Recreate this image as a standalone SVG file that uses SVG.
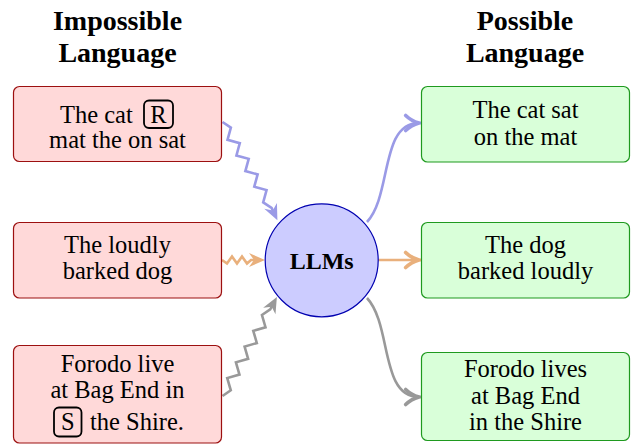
<svg xmlns="http://www.w3.org/2000/svg" width="631" height="444" viewBox="0 0 631 444">
<style>
  text { font-family: "Liberation Serif", "Times New Roman", serif; fill: #000; }
  .title { font-size: 28px; font-weight: bold; text-anchor: middle; }
  .t { font-size: 24.5px; text-anchor: middle; }
  .bad { fill: #ffd9d9; stroke: #9c1010; stroke-width: 1.2; }
  .good { fill: #d9ffd9; stroke: #1f9a1f; stroke-width: 1.2; }
  .key { fill: none; stroke: #000; stroke-width: 1.8; }
  .c { fill: none; stroke-width: 2.6; stroke-linejoin: miter; }
</style>
<defs>
  <marker id="zb" markerUnits="userSpaceOnUse" markerWidth="30" markerHeight="30" viewBox="-20 -10 30 20" refX="-8" refY="0" orient="auto" overflow="visible">
    <path d="M0,0 L-16,-7 L-11,0 L-16,7 Z" fill="#9a9ae6"/>
  </marker>
  <marker id="zo" markerUnits="userSpaceOnUse" markerWidth="30" markerHeight="30" viewBox="-20 -10 30 20" refX="-8" refY="0" orient="auto" overflow="visible">
    <path d="M0,0 L-16,-7 L-11,0 L-16,7 Z" fill="#e9b07c"/>
  </marker>
  <marker id="zg" markerUnits="userSpaceOnUse" markerWidth="30" markerHeight="30" viewBox="-20 -10 30 20" refX="-8" refY="0" orient="auto" overflow="visible">
    <path d="M0,0 L-16,-7 L-11,0 L-16,7 Z" fill="#999999"/>
  </marker>
  <marker id="ab" markerUnits="userSpaceOnUse" markerWidth="20" markerHeight="20" viewBox="-10 -6 12 12" refX="0" refY="0" orient="auto" overflow="visible">
    <path d="M-8,-4.5 C-5,-1.6 -1.5,-0.4 0,0 C-1.5,0.4 -5,1.6 -8,4.5" fill="none" stroke="#9a9ae6" stroke-width="2.2" stroke-linecap="round"/>
  </marker>
  <marker id="ao" markerUnits="userSpaceOnUse" markerWidth="20" markerHeight="20" viewBox="-10 -6 12 12" refX="0" refY="0" orient="auto" overflow="visible">
    <path d="M-8,-4.5 C-5,-1.6 -1.5,-0.4 0,0 C-1.5,0.4 -5,1.6 -8,4.5" fill="none" stroke="#e9b07c" stroke-width="2.2" stroke-linecap="round"/>
  </marker>
  <marker id="ag" markerUnits="userSpaceOnUse" markerWidth="20" markerHeight="20" viewBox="-10 -6 12 12" refX="0" refY="0" orient="auto" overflow="visible">
    <path d="M-8,-4.5 C-5,-1.6 -1.5,-0.4 0,0 C-1.5,0.4 -5,1.6 -8,4.5" fill="none" stroke="#999999" stroke-width="2.2" stroke-linecap="round"/>
  </marker>
</defs>

<g id="title-impossible">
  <text class="title" x="117.5" y="30">Impossible</text>
  <text class="title" x="117.5" y="62">Language</text>
</g>
<g id="title-possible">
  <text class="title" x="525" y="30">Possible</text>
  <text class="title" x="525" y="62">Language</text>
</g>

<g id="connectors">
  <path class="c" stroke="#9a9ae6" marker-end="url(#zb)" d="M222.5,122 L230.87,127.58 L227.51,139.85 L239.79,143.2 L236.43,155.47 L248.71,158.82 L245.35,171.09 L257.63,174.44 L254.27,186.71 L266.55,190.06 L263.19,202.33 L271.56,207.91 L274,213.1"/>
  <path class="c" stroke="#e9b07c" marker-end="url(#zo)" d="M222,260 L227,263.5 L232,256.5 L237,263.5 L242,256.5 L247,263.5 L251,260 L257,260"/>
  <path class="c" stroke="#999999" marker-end="url(#zg)" d="M222.5,396 L230.78,390.29 L227.24,378.07 L239.46,374.53 L235.92,362.31 L248.14,358.77 L244.6,346.55 L256.82,343.01 L253.28,330.79 L265.5,327.25 L261.96,315.03 L270.24,309.32 L273.1,304"/>
  <path class="c" stroke="#9a9ae6" marker-end="url(#ab)" d="M367,222 C392,195 380,123 419,123"/>
  <path class="c" stroke="#e9b07c" marker-end="url(#ao)" d="M378,260 L419,260"/>
  <path class="c" stroke="#999999" marker-end="url(#ag)" d="M367,298 C392,325 380,397 419,397"/>
</g>

<g id="imp1">
  <rect class="bad" x="13.5" y="86.5" width="208" height="75" rx="6"/>
  <text class="t" x="60" y="123" style="text-anchor:start">The cat</text>
  <rect class="key" x="144" y="100.5" width="29" height="27.5" rx="5"/>
  <text class="t" x="158.5" y="122.5">R</text>
  <text class="t" x="117.5" y="148">mat the on sat</text>
</g>
<g id="imp2">
  <rect class="bad" x="13.5" y="222.5" width="208" height="75.5" rx="6"/>
  <text class="t" x="117.5" y="253">The loudly</text>
  <text class="t" x="117.5" y="279">barked dog</text>
</g>
<g id="imp3">
  <rect class="bad" x="13.5" y="345.5" width="208" height="97.5" rx="6"/>
  <text class="t" x="117.5" y="372">Forodo live</text>
  <text class="t" x="117.5" y="398">at Bag End in</text>
  <rect class="key" x="54" y="407.5" width="27.5" height="29" rx="5"/>
  <text class="t" x="67.8" y="429.5">S</text>
  <text class="t" x="90" y="429.5" style="text-anchor:start">the Shire.</text>
</g>

<g id="llms">
  <circle cx="321.7" cy="260.3" r="56.5" fill="#ccccff" stroke="#0000b0" stroke-width="1.2"/>
  <text x="321.7" y="269" style="font-size:24px;font-weight:bold;text-anchor:middle">LLMs</text>
</g>

<g id="pos1">
  <rect class="good" x="421.5" y="86.5" width="208" height="75.5" rx="6"/>
  <text class="t" x="525.5" y="118">The cat sat</text>
  <text class="t" x="525.5" y="145">on the mat</text>
</g>
<g id="pos2">
  <rect class="good" x="421.5" y="222.5" width="208" height="75.5" rx="6"/>
  <text class="t" x="525.5" y="253">The dog</text>
  <text class="t" x="525.5" y="279">barked loudly</text>
</g>
<g id="pos3">
  <rect class="good" x="421.5" y="352.5" width="208" height="88" rx="6"/>
  <text class="t" x="525.5" y="377">Forodo lives</text>
  <text class="t" x="525.5" y="404">at Bag End</text>
  <text class="t" x="525.5" y="430">in the Shire</text>
</g>
</svg>
